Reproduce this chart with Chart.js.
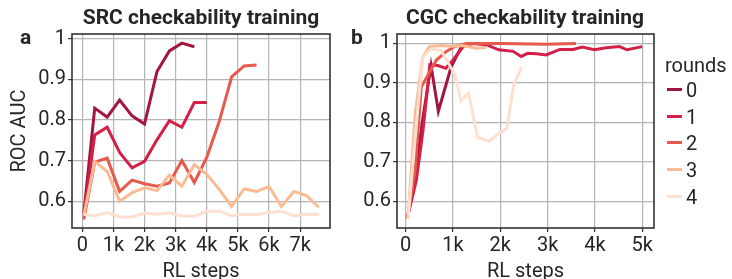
<!DOCTYPE html>
<html lang="en">
<head>
<meta charset="UTF-8">
<title>Checkability training</title>
<style>
  body { margin: 0; width: 732px; height: 279px; overflow: hidden; background: #fff;
         font-family: Roboto, sans-serif; color: #262626; position: relative; }
  canvas { position: absolute; top: 0; }
  .title { position: absolute; top: 7px; font-weight: bold; font-size: 21px; line-height: 1;
           text-align: center; width: 300px; white-space: nowrap; }
  .panel { position: absolute; top: 27px; font-weight: bold; font-size: 21px; line-height: 1; }
  #legend { position: absolute; left: 665px; top: 55px; font-size: 20px; line-height: 1; }
  .row { position: absolute; left: 2px; height: 20px; line-height: 20px; white-space: nowrap; }
  .row span { position: absolute; left: 0; top: 8px; width: 15px; height: 3px; }
  .row b { position: absolute; left: 19px; font-weight: normal; }
</style>
</head>
<body>
<canvas id="src-chart" width="345" height="279" style="left:0"></canvas>
<canvas id="cgc-chart" width="387" height="279" style="left:345px"></canvas>

<div class="title" style="left:51px">SRC checkability training</div>
<div class="title" style="left:375px">CGC checkability training</div>
<div class="panel" style="left:20px">a</div>
<div class="panel" style="left:351px">b</div>
<div id="legend">rounds</div>

<script src="https://cdn.jsdelivr.net/npm/chart.js@4.4.1/dist/chart.umd.min.js"></script>
<script>
// rounds and their colours
const rounds = ['0', '1', '2', '3', '4'];
const colors = ['#a3173f', '#d42048', '#e55a4d', '#fbbc94', '#fde0cf'];

// axis ticks
const yTicks = [0.6, 0.7, 0.8, 0.9, 1];
const srcXTicks = [0, 1000, 2000, 3000, 4000, 5000, 6000, 7000];
const cgcXTicks = [0, 1000, 2000, 3000, 4000, 5000];

// SRC: evaluations every 400 RL steps
const srcSteps = [50, 400, 800, 1200, 1600, 2000, 2400, 2800, 3200, 3600,
                  4000, 4400, 4800, 5200, 5600, 6000, 6400, 6800, 7200, 7600];
const src0 = [0.57, 0.829, 0.807, 0.849, 0.81, 0.79, 0.919, 0.97, 0.989, 0.98];
const src1 = [0.565, 0.763, 0.782, 0.72, 0.682, 0.698, 0.751, 0.798, 0.782, 0.843, 0.843];
const src2 = [0.555, 0.696, 0.706, 0.624, 0.652, 0.643, 0.637, 0.645, 0.70, 0.646, 0.708,
              0.796, 0.906, 0.933, 0.935];
const src3 = [0.565, 0.698, 0.673, 0.6, 0.621, 0.633, 0.626, 0.664, 0.637, 0.69, 0.666,
              0.629, 0.587, 0.63, 0.624, 0.636, 0.587, 0.624, 0.614, 0.585];
const src4 = [0.568, 0.564, 0.572, 0.561, 0.561, 0.571, 0.568, 0.571, 0.564, 0.563,
              0.575, 0.575, 0.564, 0.568, 0.567, 0.572, 0.575, 0.564, 0.568, 0.567];

// CGC: each round has its own evaluation steps
const cgcSteps0 = [40, 200, 350, 535, 690, 960, 1170, 1350];
const cgc0 = [0.56, 0.66, 0.80, 0.944, 0.828, 0.94, 0.99, 1.0];
const cgcSteps1 = [40, 225, 366, 450, 510, 680, 850, 1000, 1230, 1420, 1700, 1970, 2270,
                   2440, 2580, 2760, 2970, 3260, 3540, 3730, 3990, 4240, 4520, 4680, 5000];
const cgc1 = [0.56, 0.653, 0.78, 0.874, 0.946, 0.944, 0.937, 0.958, 0.994, 1.0, 0.997, 0.984,
              0.98, 0.967, 0.975, 0.974, 0.971, 0.985, 0.985, 0.991, 0.984, 0.989, 0.992, 0.984, 0.992];
const cgcSteps2 = [40, 200, 330, 650, 860, 1030, 1280, 2000, 2970, 3600];
const cgc2 = [0.555, 0.68, 0.89, 0.958, 0.98, 0.992, 1.0, 1.0, 0.998, 1.0];
const cgcSteps3 = [50, 200, 360, 500, 750, 950, 1200, 1490, 1700];
const cgc3 = [0.56, 0.82, 0.965, 0.992, 0.995, 0.993, 0.995, 0.988, 0.99];
const cgcSteps4 = [50, 200, 360, 535, 750, 1030, 1170, 1330, 1520, 1770, 1950, 2140, 2280, 2450];
const cgc4 = [0.555, 0.76, 0.965, 0.986, 0.982, 0.923, 0.855, 0.874, 0.762, 0.752, 0.77,
              0.785, 0.893, 0.94];

const pairs = (xs, ys) => ys.map((y, i) => ({ x: xs[i], y: y }));

function makeDatasets(list) {
    return list.map((points, i) => ({
        label: rounds[i],
        data: points,
        borderColor: colors[i],
        borderWidth: 3,
        pointRadius: 0,
        tension: 0,
        order: rounds.length - i // later rounds on top
    }));
}

// dark frame round the plot area
const frame = {
    id: 'frame',
    afterDatasetsDraw(chart) {
        const a = chart.chartArea, ctx = chart.ctx;
        ctx.save();
        ctx.strokeStyle = '#333';
        ctx.lineWidth = 1.6;
        ctx.strokeRect(a.left, a.top, a.right - a.left, a.bottom - a.top);
        ctx.restore();
    }
};

const tickFont = { family: 'Roboto', size: 20 };
const kLabel = v => v === 0 ? '0' : (v / 1000) + 'k';
const yLabel = v => v === 1 ? '1' : v.toFixed(1);

function makeChart(id, datasets, xRange, xTicks, yRange, yWidth, rightPad, yTitle) {
    return new Chart(document.getElementById(id), {
        type: 'line',
        data: { datasets: datasets },
        plugins: [frame],
        options: {
            responsive: false,
            animation: false,
            layout: { padding: { top: 34, right: rightPad, left: 0, bottom: 0 } },
            plugins: { legend: { display: false }, tooltip: { enabled: false } },
            scales: {
                x: {
                    type: 'linear', min: xRange[0], max: xRange[1],
                    afterBuildTicks: s => { s.ticks = xTicks.map(v => ({ value: v })); },
                    afterFit: s => { s.height = 51; },
                    ticks: { font: tickFont, color: '#262626', padding: 2, maxRotation: 0, callback: kLabel },
                    grid: { color: '#b5b5b5', lineWidth: 1.2, tickLength: 4, tickColor: '#333' },
                    border: { display: false },
                    title: { display: true, text: 'RL steps', color: '#262626',
                             font: { family: 'Roboto', size: 20, lineHeight: 1 }, padding: { top: 0, bottom: -3 } }
                },
                y: {
                    min: yRange[0], max: yRange[1],
                    afterBuildTicks: s => { s.ticks = yTicks.map(v => ({ value: v })); },
                    afterFit: s => { s.width = yWidth; },
                    ticks: { font: tickFont, color: '#262626', padding: 2, callback: yLabel },
                    grid: { color: '#b5b5b5', lineWidth: 1.2, tickLength: 4, tickColor: '#333' },
                    border: { display: false },
                    title: { display: yTitle !== '', text: yTitle, color: '#262626',
                             font: { family: 'Roboto', size: 20, lineHeight: 1 }, padding: { top: 10, bottom: 0 } }
                }
            }
        }
    });
}

makeChart('src-chart',
    makeDatasets([src0, src1, src2, src3, src4].map(v => pairs(srcSteps, v))),
    [-330, 7960], srcXTicks, [0.534, 1.0115], 72, 15, 'ROC AUC');

makeChart('cgc-chart',
    makeDatasets([pairs(cgcSteps0, cgc0), pairs(cgcSteps1, cgc1), pairs(cgcSteps2, cgc2),
                  pairs(cgcSteps3, cgc3), pairs(cgcSteps4, cgc4)]),
    [-184, 5250], cgcXTicks, [0.532, 1.024], 52, 78, '');

// legend on the right
const legend = document.getElementById('legend');
rounds.forEach((r, i) => {
    const row = document.createElement('div');
    row.className = 'row';
    row.style.top = (25 + i * 26.65) + 'px';
    row.innerHTML = '<span style="background:' + colors[i] + '"></span><b>' + r + '</b>';
    legend.appendChild(row);
});
</script>
</body>
</html>
